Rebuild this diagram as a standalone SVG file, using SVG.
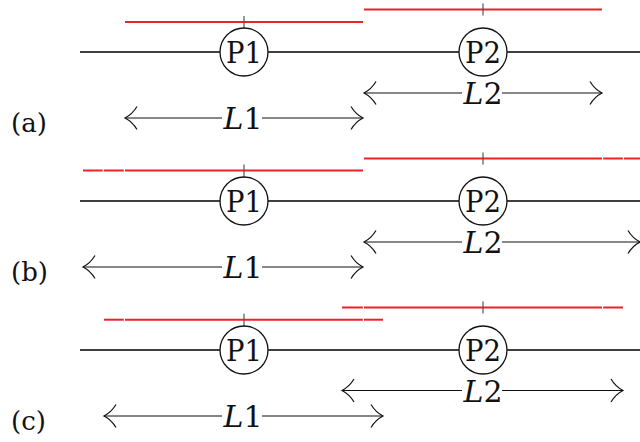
<svg xmlns="http://www.w3.org/2000/svg" width="640" height="442" viewBox="0 0 640 442">
<style>
.main{stroke:#000;stroke-width:1.7;fill:none}
.red{stroke:#ec2227;stroke-width:2;fill:none}
.tick{stroke:#555;stroke-width:1.2;fill:none}
.arr{stroke:#111;stroke-width:1.2;fill:none}
.circ{fill:#fff;stroke:#111;stroke-width:1.3}
.bg{fill:#fff}
</style>
<defs>
<marker id="ah" markerUnits="userSpaceOnUse" orient="auto-start-reverse" refX="0" refY="0" markerWidth="20" markerHeight="30" overflow="visible">
<path d="M-12,-11.5 C-9,-6.5 -3.5,-1.8 0,0 C-3.5,1.8 -9,6.5 -12,11.5" fill="none" stroke="#111" stroke-width="1.2"/>
</marker>
</defs>
<rect width="640" height="442" fill="#fff"/>

<g font-family="DejaVu Serif, serif" fill="#111">
<!-- Panel (a) -->
<g id="panel-a">
<line class="main" x1="80" y1="52" x2="640" y2="52"/>
<g id="a-red">
<line class="red" x1="125" y1="22" x2="363" y2="22"/>
<line class="tick" x1="244" y1="16" x2="244" y2="28"/>
<line class="red" x1="364" y1="9.5" x2="602" y2="9.5"/>
<line class="tick" x1="483" y1="3.5" x2="483" y2="15.5"/>
</g>
<g id="a-P1"><circle class="circ" cx="244" cy="52" r="24"/><text x="244" y="63" font-size="30" text-anchor="middle" textLength="36" lengthAdjust="spacingAndGlyphs">P1</text></g>
<g id="a-P2"><circle class="circ" cx="483" cy="52" r="24"/><text x="483" y="63" font-size="30" text-anchor="middle" textLength="36" lengthAdjust="spacingAndGlyphs">P2</text></g>
<g id="a-L2">
<line class="arr" x1="364" y1="93" x2="602" y2="93" marker-start="url(#ah)" marker-end="url(#ah)"/>
<rect class="bg" x="462" y="80" width="40" height="26"/>
<text x="483" y="104" font-size="30" text-anchor="middle"><tspan font-style="italic">L</tspan>2</text>
</g>
<g id="a-L1">
<line class="arr" x1="125" y1="118" x2="363" y2="118" marker-start="url(#ah)" marker-end="url(#ah)"/>
<rect class="bg" x="222" y="105" width="40" height="26"/>
<text x="243" y="129" font-size="30" text-anchor="middle"><tspan font-style="italic">L</tspan>1</text>
</g>
<text x="11" y="132" font-size="26">(a)</text>
</g>

<!-- Panel (b) -->
<g id="panel-b">
<line class="main" x1="80" y1="201" x2="640" y2="201"/>
<g id="b-red">
<line class="red" x1="83" y1="170.5" x2="102.6" y2="170.5"/>
<line class="red" x1="103.8" y1="170.5" x2="123.8" y2="170.5"/>
<line class="red" x1="125" y1="170.5" x2="363" y2="170.5"/>
<line class="tick" x1="244" y1="164.5" x2="244" y2="177"/>
<line class="red" x1="364" y1="158.5" x2="602" y2="158.5"/>
<line class="red" x1="603.2" y1="158.5" x2="622.8" y2="158.5"/>
<line class="red" x1="624" y1="158.5" x2="640" y2="158.5"/>
<line class="tick" x1="483" y1="152.5" x2="483" y2="164.5"/>
</g>
<g id="b-P1"><circle class="circ" cx="244" cy="201" r="24"/><text x="244" y="212" font-size="30" text-anchor="middle" textLength="36" lengthAdjust="spacingAndGlyphs">P1</text></g>
<g id="b-P2"><circle class="circ" cx="483" cy="201" r="24"/><text x="483" y="212" font-size="30" text-anchor="middle" textLength="36" lengthAdjust="spacingAndGlyphs">P2</text></g>
<g id="b-L2">
<line class="arr" x1="364" y1="242" x2="640" y2="242" marker-start="url(#ah)" marker-end="url(#ah)"/>
<rect class="bg" x="462" y="229" width="40" height="26"/>
<text x="483" y="253" font-size="30" text-anchor="middle"><tspan font-style="italic">L</tspan>2</text>
</g>
<g id="b-L1">
<line class="arr" x1="83" y1="267" x2="363" y2="267" marker-start="url(#ah)" marker-end="url(#ah)"/>
<rect class="bg" x="222" y="254" width="40" height="26"/>
<text x="243" y="278" font-size="30" text-anchor="middle"><tspan font-style="italic">L</tspan>1</text>
</g>
<text x="11" y="281" font-size="26">(b)</text>
</g>

<!-- Panel (c) -->
<g id="panel-c">
<line class="main" x1="80" y1="350" x2="640" y2="350"/>
<g id="c-red">
<line class="red" x1="104" y1="319.7" x2="123.8" y2="319.7"/>
<line class="red" x1="125" y1="319.7" x2="362.8" y2="319.7"/>
<line class="red" x1="364" y1="319.7" x2="383" y2="319.7"/>
<line class="tick" x1="244" y1="313.7" x2="244" y2="326"/>
<line class="red" x1="342" y1="307.5" x2="362.8" y2="307.5"/>
<line class="red" x1="364" y1="307.5" x2="602" y2="307.5"/>
<line class="red" x1="603.2" y1="307.5" x2="623" y2="307.5"/>
<line class="tick" x1="483" y1="301.5" x2="483" y2="313.5"/>
</g>
<g id="c-P1"><circle class="circ" cx="244" cy="350" r="24"/><text x="244" y="361" font-size="30" text-anchor="middle" textLength="36" lengthAdjust="spacingAndGlyphs">P1</text></g>
<g id="c-P2"><circle class="circ" cx="483" cy="350" r="24"/><text x="483" y="361" font-size="30" text-anchor="middle" textLength="36" lengthAdjust="spacingAndGlyphs">P2</text></g>
<g id="c-L2">
<line class="arr" x1="342" y1="390.5" x2="623" y2="390.5" marker-start="url(#ah)" marker-end="url(#ah)"/>
<rect class="bg" x="462" y="377.5" width="40" height="26"/>
<text x="483" y="401.5" font-size="30" text-anchor="middle"><tspan font-style="italic">L</tspan>2</text>
</g>
<g id="c-L1">
<line class="arr" x1="104" y1="416" x2="383" y2="416" marker-start="url(#ah)" marker-end="url(#ah)"/>
<rect class="bg" x="222" y="403" width="40" height="26"/>
<text x="243" y="427" font-size="30" text-anchor="middle"><tspan font-style="italic">L</tspan>1</text>
</g>
<text x="11" y="430" font-size="26">(c)</text>
</g>
</g>
</svg>
